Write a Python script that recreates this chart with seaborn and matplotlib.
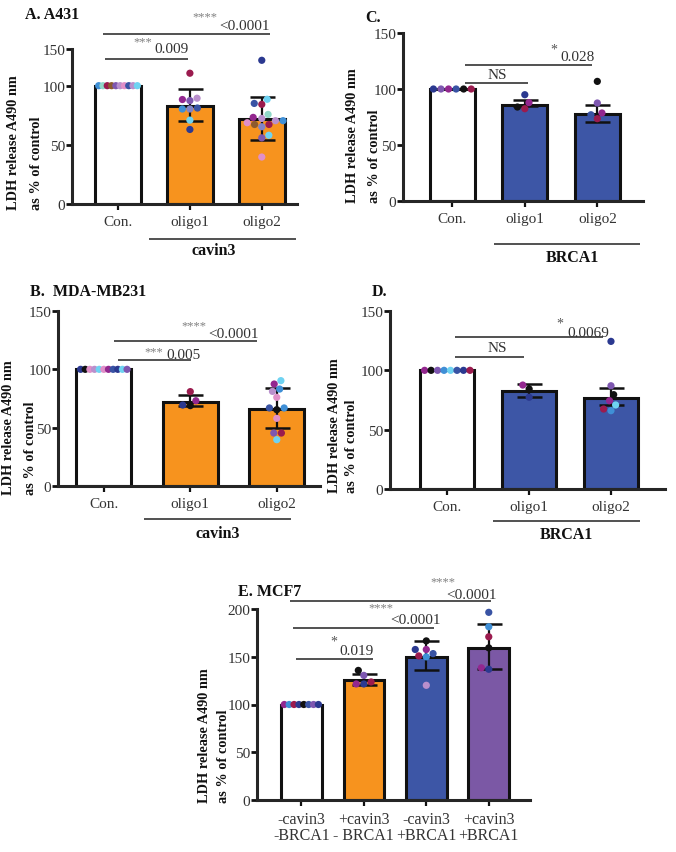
import numpy as np
import pandas as pd
import matplotlib
matplotlib.use("Agg")
import matplotlib.pyplot as plt
import seaborn as sns

# ---------------- data ----------------
COL = {
    'navy': '#2b3990', 'blue': '#3953a4', 'lblue': '#3f8fd6', 'cyan': '#6fd3f2',
    'teal': '#8fd8c8', 'purple': '#7e57b0', 'magenta': '#93278f', 'lpurple': '#b98fcc',
    'lavender': '#8184c8', 'pink': '#e08fc8', 'maroon': '#9b1b4e', 'brown': '#8c5a2e',
    'black': '#111111',
}
ORANGE = '#f7931e'
BLUEBAR = '#3d56a6'
PURPLEBAR = '#7b58a5'

cats_ab = ['Con.', 'oligo1', 'oligo2']

A_mean = [100, 83, 71.5]
A_lo = [100, 70.4, 54.5]
A_hi = [100, 97, 90.2]
A_ctrl = ['lblue', 'teal', 'maroon', 'brown', 'purple', 'lpurple', 'pink', 'blue', 'lpurple', 'cyan']
A_o1_vals = [117, 89.4, 88.3, 87.4, 81.1, 80.3, 80.3, 70.9, 63]
A_o1_cols = ['maroon', 'lpurple', 'magenta', 'purple', 'blue', 'lblue', 'lavender', 'cyan', 'navy']
A_o2_vals = [134.6, 88.5, 85, 84.2, 75.7, 73.2, 72.3, 70.4, 70.4, 68.7, 67.2, 67.2, 65.3, 58.1, 55.9, 39.7]
A_o2_cols = ['navy', 'cyan', 'blue', 'maroon', 'teal', 'magenta', 'lpurple', 'lpurple', 'lblue',
             'pink', 'maroon', 'brown', 'lavender', 'cyan', 'purple', 'pink']

B_mean = [100, 71.7, 66]
B_lo = [100, 68.3, 49.7]
B_hi = [100, 78.3, 83.7]
B_ctrl = ['navy', 'black', 'pink', 'lpurple', 'cyan', 'pink', 'magenta', 'blue', 'navy', 'cyan', 'purple']
B_o1_vals = [80.9, 73.1, 68.9, 69.4]
B_o1_cols = ['maroon', 'magenta', 'black', 'navy']
B_o2_vals = [90.3, 87.4, 83.1, 81.1, 76, 66.9, 66.9, 65.4, 58, 45.4, 45.4, 39.7]
B_o2_cols = ['cyan', 'magenta', 'lblue', 'lpurple', 'pink', 'blue', 'lblue', 'black', 'pink',
             'purple', 'maroon', 'cyan']

C_mean = [100, 86, 78]
C_lo = [100, 84.5, 70.5]
C_hi = [100, 90.2, 86]
C_ctrl = ['navy', 'purple', 'magenta', 'blue', 'black', 'maroon']
C_o1_vals = [94.9, 87.8, 83.9, 82.4]
C_o1_cols = ['navy', 'magenta', 'black', 'maroon']
C_o2_vals = [106.8, 87.5, 78.6, 77, 73.5]
C_o2_cols = ['black', 'purple', 'magenta', 'blue', 'maroon']

D_mean = [100, 82.6, 76.9]
D_lo = [100, 77.8, 70.8]
D_hi = [100, 88.5, 85.4]
D_ctrl = ['magenta', 'black', 'purple', 'lblue', 'cyan', 'blue', 'navy', 'maroon']
D_o1_vals = [87.6, 84.3, 77.3]
D_o1_cols = ['magenta', 'black', 'navy']
D_o2_vals = [124.4, 87, 79.5, 74.4, 70.8, 67.4, 66]
D_o2_cols = ['navy', 'purple', 'black', 'magenta', 'cyan', 'maroon', 'lblue']

cats_e = ['-cavin3\n-BRCA1', '+cavin3\n- BRCA1', '-cavin3\n+BRCA1', '+cavin3\n+BRCA1']
E_mean = [100, 126, 149.9, 159.3]
E_lo = [100, 120.9, 135.7, 136.9]
E_hi = [100, 131.5, 166.6, 183.8]
E_ctrl = ['magenta', 'lblue', 'maroon', 'navy', 'black', 'blue', 'purple', 'navy']
E_2_vals = [135.7, 130.5, 123.6, 121.5, 121.5]
E_2_cols = ['black', 'purple', 'maroon', 'navy', 'magenta']
E_3_vals = [166.6, 157.6, 157.6, 153.3, 150.9, 149.9, 120.1]
E_3_cols = ['black', 'magenta', 'navy', 'blue', 'maroon', 'lblue', 'lpurple']
E_4_vals = [196.5, 181.4, 170.9, 159.3, 138.4, 136.9]
E_4_cols = ['blue', 'lblue', 'maroon', 'black', 'magenta', 'navy']

YLAB1 = 'LDH release A490 nm'
YLAB2 = 'as % of control'

# ---------------- style ----------------
sns.set_theme(style='ticks')
plt.rcParams['font.family'] = ['Liberation Serif', 'DejaVu Serif']
plt.rcParams['axes.linewidth'] = 2.2

W, H = 676, 853
fig = plt.figure(figsize=(W / 100, H / 100), dpi=100)


def add_axes(left, right, top, bottom):
    return fig.add_axes([left / W, 1 - bottom / H, (right - left) / W, (bottom - top) / H])


def fx(x):
    return x / W


def fy(y):
    return 1 - y / H


PT = 5.2  # marker diameter (pt)


def draw_panel(ax, cats, means, lo, hi, barcols, ctrl, groups, ylim, yticks, xlim, width):
    dfb = pd.DataFrame({'g': cats, 'v': means})
    sns.barplot(data=dfb, x='g', y='v', hue='g', palette=dict(zip(cats, barcols)),
                order=cats, hue_order=cats, legend=False, errorbar=None, width=width,
                saturation=1, edgecolor='#111111', linewidth=2.2, ax=ax, zorder=1)
    m = np.array(means, dtype=float)
    yerr = np.vstack([m - np.array(lo), np.array(hi) - m])
    idx = [i for i in range(len(cats)) if yerr[:, i].sum() > 0]
    ax.errorbar(idx, m[idx], yerr=yerr[:, idx], fmt='none', ecolor='#111111',
                elinewidth=1.6, capsize=9, capthick=1.8, zorder=2)
    n = len(ctrl)
    xs = np.linspace(-0.42 * width, 0.42 * width, n)
    ax.scatter(xs, np.full(n, means[0]), s=PT ** 2, c=[COL[c] for c in ctrl],
               linewidths=0, zorder=4, clip_on=False)
    rows = []
    for gi, (vals, cols) in enumerate(groups, start=1):
        for v, c in zip(vals, cols):
            rows.append({'g': cats[gi], 'v': v, 'c': c})
    dfp = pd.DataFrame(rows)
    sns.swarmplot(data=dfp, x='g', y='v', hue='c', palette=COL, order=cats,
                  legend=False, size=PT, ax=ax, zorder=4, linewidth=0, clip_on=False)
    ax.set_xlim(*xlim)
    ax.set_ylim(*ylim)
    ax.set_yticks(yticks)
    ax.set_yticklabels([str(t) for t in yticks])
    ax.set_xlabel('')
    ax.set_ylabel('')
    sns.despine(ax=ax)
    ax.tick_params(axis='y', length=4, width=2, labelsize=11, colors='#111111', pad=1,
                   labelcolor='#333333')
    ax.tick_params(axis='x', length=4, width=1.6, labelsize=11, colors='#111111', pad=4,
                   labelcolor='#333333')
    ax.set_facecolor('none')


def bracket(ax, x0, x1, y, lw=1.1):
    ax.plot([x0, x1], [y, y], color='#222222', lw=lw, clip_on=False, solid_capstyle='butt')


def txt(ax, x, y, s, size=11, color='#333333', weight='normal'):
    ax.text(x, y, s, ha='center', va='center', fontsize=size, color=color,
            fontweight=weight, clip_on=False)


STAR = '#808080'

# ---------------- Panel A ----------------
axA = add_axes(72, 297, 50, 205)
draw_panel(axA, cats_ab, A_mean, A_lo, A_hi, ['white', ORANGE, ORANGE], A_ctrl,
           [(A_o1_vals, A_o1_cols), (A_o2_vals, A_o2_cols)],
           (0, 150), [0, 50, 100, 150], (-0.64, 2.49), 0.64)
K = 0.62


def fwdA(y):
    y = np.asarray(y, dtype=float)
    return np.where(y <= 100, y, 100 + (y - 100) * K)


def invA(v):
    v = np.asarray(v, dtype=float)
    return np.where(v <= 100, v, 100 + (v - 100) / K)


axA.set_yscale('function', functions=(fwdA, invA))
axA.set_ylim(0, 150)
axA.set_yticks([0, 50, 100, 150])
axA.set_yticklabels(['0', '50', '100', '150'])
axA.minorticks_off()
bracket(axA, -0.18, 0.97, 136.4)
txt(axA, 0.35, 161, '***', 9, STAR)
txt(axA, 0.74, 150.5, '0.009')
bracket(axA, -0.21, 2.11, 170.5)
txt(axA, 1.21, 195, '****', 9, STAR)
txt(axA, 1.76, 181.4, '<0.0001')
bracket(axA, 0.43, 2.47, -29.6)
txt(axA, 1.33, -39, 'cavin3', 11.5, '#111111', 'bold')

# ---------------- Panel B ----------------
axB = add_axes(58, 320, 312, 487)
draw_panel(axB, cats_ab, B_mean, B_lo, B_hi, ['white', ORANGE, ORANGE], B_ctrl,
           [(B_o1_vals, B_o1_cols), (B_o2_vals, B_o2_cols)],
           (0, 150), [0, 50, 100, 150], (-0.53, 2.5), 0.64)
bracket(axB, 0.16, 1.01, 108.3)
txt(axB, 0.58, 115.7, '***', 9, STAR)
txt(axB, 0.92, 113, '0.005')
bracket(axB, 0.12, 1.77, 124)
txt(axB, 1.04, 138, '****', 9, STAR)
txt(axB, 1.50, 131, '<0.0001')
bracket(axB, 0.47, 2.17, -28.3)
txt(axB, 1.32, -40, 'cavin3', 11.5, '#111111', 'bold')

# ---------------- Panel C ----------------
axC = add_axes(403, 643, 34, 202)
draw_panel(axC, cats_ab, C_mean, C_lo, C_hi, ['white', BLUEBAR, BLUEBAR], C_ctrl,
           [(C_o1_vals, C_o1_cols), (C_o2_vals, C_o2_cols)],
           (0, 150), [0, 50, 100, 150], (-0.68, 2.63), 0.62)
bracket(axC, 0.18, 1.05, 105.6)
txt(axC, 0.62, 112.8, 'NS')
bracket(axC, 0.18, 1.93, 121)
txt(axC, 1.40, 136, '*', 10, '#555555')
txt(axC, 1.72, 128.8, '0.028')
bracket(axC, 0.57, 2.59, -38)
txt(axC, 1.66, -50, 'BRCA1', 11.5, '#111111', 'bold')

# ---------------- Panel D ----------------
axD = add_axes(390, 665, 312, 490)
draw_panel(axD, cats_ab, D_mean, D_lo, D_hi, ['white', BLUEBAR, BLUEBAR], D_ctrl,
           [(D_o1_vals, D_o1_cols), (D_o2_vals, D_o2_cols)],
           (0, 150), [0, 50, 100, 150], (-0.70, 2.66), 0.66)
bracket(axD, 0.10, 0.94, 111.5)
txt(axD, 0.61, 119.4, 'NS')
bracket(axD, 0.10, 1.90, 127.8)
txt(axD, 1.37, 139.5, '*', 10, '#555555')
txt(axD, 1.72, 132.3, '0.0069')
bracket(axD, 0.56, 2.35, -26.7)
txt(axD, 1.46, -37.9, 'BRCA1', 11.5, '#111111', 'bold')

# ---------------- Panel E ----------------
axE = add_axes(257, 530, 610, 801)
draw_panel(axE, cats_e, E_mean, E_lo, E_hi, ['white', ORANGE, BLUEBAR, PURPLEBAR], E_ctrl,
           [(E_2_vals, E_2_cols), (E_3_vals, E_3_cols), (E_4_vals, E_4_cols)],
           (0, 200), [0, 50, 100, 150, 200], (-0.71, 3.66), 0.65)
axE.tick_params(axis='x', labelsize=11.5)
for lab in axE.get_xticklabels():
    lab.set_linespacing(1.0)
bracket(axE, -0.09, 1.14, 147.4)
txt(axE, 0.52, 166, '*', 10, '#555555')
txt(axE, 0.88, 156.6, '0.019')
bracket(axE, -0.14, 2.12, 179.7)
txt(axE, 1.28, 202, '****', 9, STAR)
txt(axE, 1.82, 189, '<0.0001')
bracket(axE, -0.18, 3.03, 208.4)
txt(axE, 2.26, 229, '****', 9, STAR)
txt(axE, 2.72, 215.4, '<0.0001')

# ---------------- labels ----------------
# y-axis labels: two lines, both starting at the same bottom edge
for (x1, x2, yb) in [(14, 36.5, 210), (9, 30, 495), (352, 374.5, 203),
                     (334, 351, 493), (204, 223.5, 803)]:
    for xx, s in ((x1, YLAB1), (x2, YLAB2)):
        fig.text(fx(xx), fy(yb), s, rotation=90, ha='center', va='bottom', fontsize=10.3,
                 fontweight='bold', color='#111111')

for (x, y, s) in [(25, 15, 'A. A431'), (30, 292, 'B.  MDA-MB231'), (365, 18, 'C.'),
                  (372, 292, 'D.'), (238, 592, 'E. MCF7')]:
    fig.text(fx(x), fy(y), s, ha='left', va='center', fontsize=11.5, fontweight='bold',
             color='#111111')

fig.savefig('out.png', dpi=100)
